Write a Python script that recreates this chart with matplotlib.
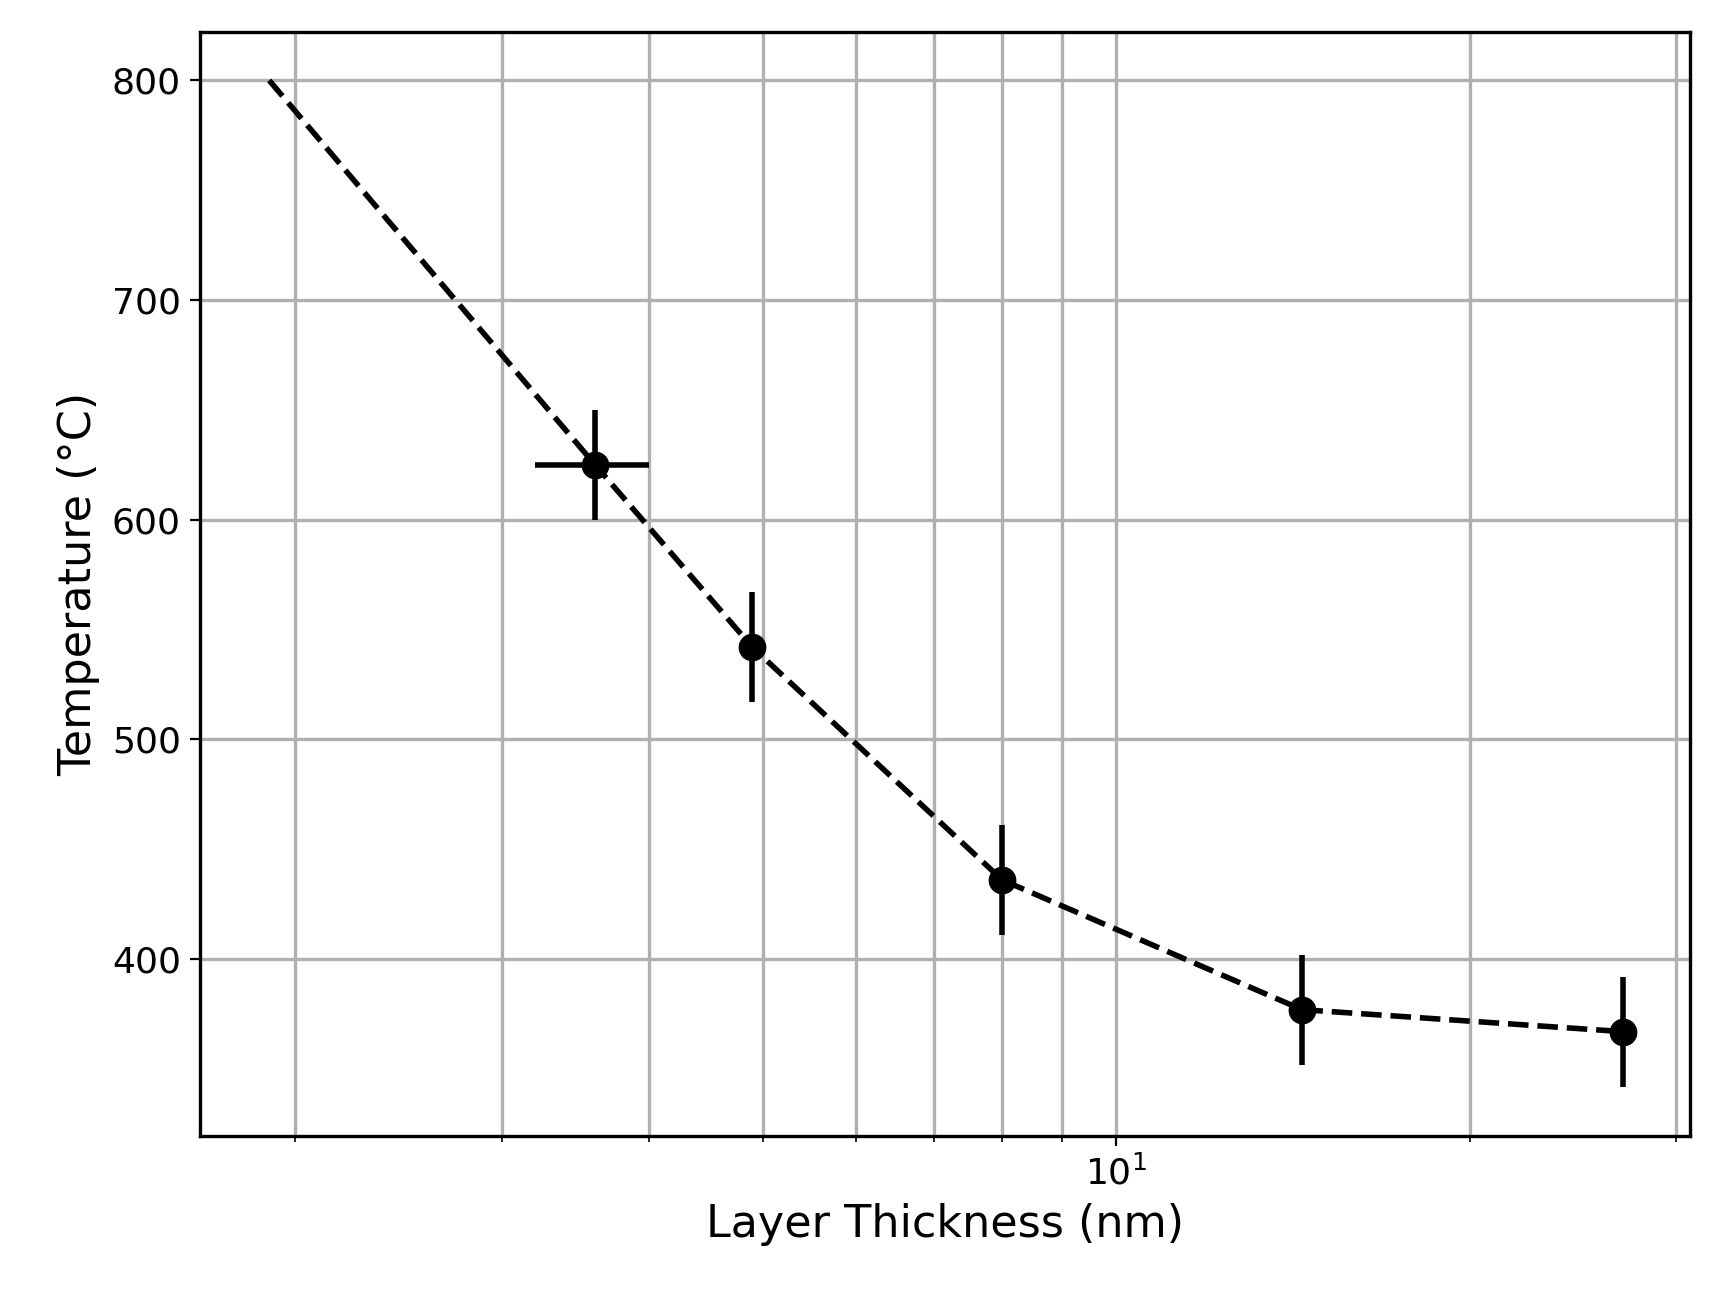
import matplotlib
matplotlib.use("Agg")
import matplotlib.pyplot as plt

line_x = [1.9, 3.6, 4.9, 8.0, 14.4, 27.0]
line_y = [800, 625, 542, 436, 377, 367]
pt_x = [3.6, 4.9, 8.0, 14.4, 27.0]
pt_y = [625, 542, 436, 377, 367]
pt_yerr = [25, 25, 25, 25, 25]
pt_xerr = [0.4, 0, 0, 0, 0]

fig, ax = plt.subplots(figsize=(8.56, 6.49), dpi=200)
ax.plot(line_x, line_y, "k--", lw=2)
ax.errorbar(pt_x, pt_y, yerr=pt_yerr, xerr=pt_xerr, fmt="o", color="k",
            ms=9, elinewidth=2, capsize=0)
ax.set_xscale("log")
ax.set_xlim(1.66, 30.8)
ax.set_ylim(319.6, 821.8)
ax.set_yticks([400, 500, 600, 700, 800])
ax.grid(True, which="both", color="#b0b0b0", lw=1.2)
ax.set_axisbelow(True)
ax.tick_params(labelsize=13)
ax.set_xlabel("Layer Thickness (nm)", fontsize=16)
ax.set_ylabel("Temperature (°C)", fontsize=16)
for s in ax.spines.values():
    s.set_linewidth(1.2)
fig.subplots_adjust(left=0.117, right=0.987, top=0.975, bottom=0.125)
fig.savefig("out.png", dpi=200)
